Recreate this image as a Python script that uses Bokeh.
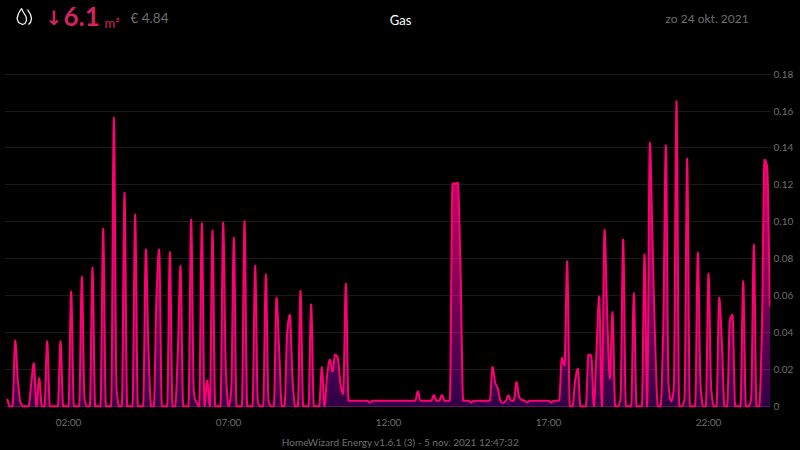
import numpy as np
from bokeh.plotting import figure
from bokeh.layouts import column
from bokeh.core.properties import value
from bokeh.models import FixedTicker, Range1d
from bokeh.embed import file_html
from bokeh.resources import INLINE

# gas use per 5 minutes, one row per hour, first sample at 00:05
gas_m3 = [
    .004, 0, 0, .0356, .014, .002, 0, 0, 0, .012, .0233,
    0, .0152, 0, 0, .0352, 0, 0, 0, 0, .0352, 0, 0,
    0, .0622, 0, 0, 0, .0702, .004, 0, 0, .075, 0, 0,
    0, .0962, 0, 0, 0, .1564, .01, 0, 0, .1157, 0, 0,
    0, .1038, 0, 0, 0, .085, .03, 0, 0, .06, .085, 0,
    0, 0, .0835, 0, 0, .03, .076, 0, 0, 0, .1012, .007,
    .002, 0, .0992, 0, .0139, 0, .0953, 0, 0, 0, .0995, .02,
    0, .008, .0913, 0, 0, 0, .1003, 0, 0, 0, .0761, .002,
    0, 0, .0714, .003, 0, 0, .0588, .03, 0, 0, .04, .0495,
    .015, 0, 0, .0626, 0, 0, 0, .0552, 0, 0, 0, .0211,
    0, .017, .0252, .0188, .028, .026, .012, .0067, .0664, .003, .003, .003,
    .003, .003, .003, .003, .003, .002, .003, .003, .003, .003, .003, .003,
    .003, .003, .003, .003, .003, .003, .003, .003, .003, .003, .003, .008,
    .003, .003, .003, .003, .003, .006, .003, .003, .006, .003, .003, .003,
    .1206, .1208, .1212, .075, .003, .003, .003, .002, .003, .003, .003, .003,
    .003, .003, .003, .0212, .013, .0094, .003, .0018, .003, .0058, .003, .003,
    .013, .005, .0035, .003, .002, .003, .003, .003, .003, .003, .003, .003,
    .003, .002, .003, .003, .003, .0262, .022, .0785, 0, 0, .014, .0203,
    0, 0, 0, .028, .0275, 0, .03, .0595, 0, .0957, .05, .015,
    .051, 0, 0, .004, .0904, 0, 0, 0, .0613, 0, 0, 0,
    .0823, 0, .1428, .09, .035, 0, 0, .04, .1414, .012, .0027, .01,
    .1654, 0, 0, .004, .1342, 0, 0, 0, .0832, .012, 0, 0,
    .0718, .01, 0, 0, .0588, .035, 0, 0, .0465, .0495, 0, 0,
    0, .0678, 0, 0, .004, .0875, 0, 0, .04, .1336, .13, .054,
]
hour_ticks = [2, 7, 12, 17, 22]
hour_labels = ["02:00", "07:00", "12:00", "17:00", "22:00"]
value_ticks = [0, .02, .04, .06, .08, .10, .12, .14, .16, .18]
value_labels = ["0", "0.02", "0.04", "0.06", "0.08", "0.10", "0.12", "0.14", "0.16", "0.18"]
title_text = "Gas"
total_text = "6.1"
unit_text = "m³"
cost_text = "€ 4.84"
date_text = "zo 24 okt. 2021"
footer_text = "HomeWizard Energy v1.6.1 (3) - 5 nov. 2021 12:47:32"

hours = np.array([(i + 1) * 5 / 60 for i in range(len(gas_m3))])
vals = np.array(gas_m3)


def monotone_curve(x, y, per_step=8):
    """Monotone cubic curve through the samples, as the original chart's line style."""
    h = np.diff(x)
    s = np.diff(y) / h
    m = np.zeros_like(y)
    for i in range(1, len(y) - 1):
        if s[i - 1] * s[i] > 0:
            m[i] = 2 * s[i - 1] * s[i] / (s[i - 1] + s[i])
    m[0], m[-1] = s[0], s[-1]
    out_x, out_y = [], []
    for i in range(len(h)):
        t = np.linspace(0, 1, per_step, endpoint=False)
        a = 2 * t**3 - 3 * t**2 + 1
        b = t**3 - 2 * t**2 + t
        c = -2 * t**3 + 3 * t**2
        d = t**3 - t**2
        out_x.append(x[i] + t * h[i])
        out_y.append(a * y[i] + b * h[i] * m[i] + c * y[i + 1] + d * h[i] * m[i + 1])
    return np.append(np.concatenate(out_x), x[-1]), np.append(np.concatenate(out_y), y[-1])


def strip(height, top):
    """A black figure whose data units are page pixels; the column aligns its frame with the chart's."""
    f = figure(width=800, height=height, output_backend="svg", toolbar_location=None,
               x_range=Range1d(4, 770), y_range=Range1d(top + height, top),
               background_fill_color="black", border_fill_color="black",
               x_axis_type=None, y_axis_type=None, min_border=0)
    f.outline_line_color = None
    f.grid.visible = False
    return f


def put(f, text, x, y, size, color, align="left", style="normal", font="Lato"):
    f.text([x], [y], text=[text], text_font=value(font), text_font_size=value(size),
           text_color=color, text_align=align, text_baseline="middle", text_font_style=style)


crimson = "#d2235a"
grey = "#6e6e6e"

head = strip(60, 0)
put(head, "↓", 45, 17, "20px", crimson, style="bold", font="DejaVu Sans")
put(head, total_text, 63, 16, "26px", crimson, style="bold")
put(head, unit_text, 104, 22, "13px", crimson)
put(head, cost_text, 130, 17, "13.5px", grey)
put(head, title_text, 400, 19, "13px", "#ffffff", align="center")
put(head, date_text, 665, 18, "12px", grey)
head.line([22, 18, 16.5, 18, 21, 23, 25.5, 26, 24.5, 22], [24, 22, 18, 13, 8, 12, 16, 20, 23, 24],
          line_color="#ffffff", line_width=1.2)
head.line([27, 30, 31, 30, 28], [9, 14, 18, 22, 24], line_color="#ffffff", line_width=1.2)

p = figure(width=800, height=372, output_backend="svg", toolbar_location=None,
           x_range=Range1d(0, 23.9375), y_range=Range1d(-0.00125, 0.18743),
           background_fill_color="black", border_fill_color="black", y_axis_location="right",
           min_border_left=4, min_border_right=30, min_border_top=0, min_border_bottom=24)
p.outline_line_color = None

p.xaxis.ticker = FixedTicker(ticks=hour_ticks)
p.xaxis.major_label_overrides = dict(zip(hour_ticks, hour_labels))
p.yaxis.ticker = FixedTicker(ticks=value_ticks)
p.yaxis.major_label_overrides = dict(zip(value_ticks, value_labels))
for ax in (p.xaxis, p.yaxis):
    ax.axis_line_color = None
    ax.major_tick_line_color = None
    ax.minor_tick_line_color = None
    ax.major_tick_out = 0
    ax.major_tick_in = 0
    ax.major_label_text_color = grey
    ax.major_label_text_font = "Lato"
    ax.major_label_text_font_size = "10px"
p.xaxis.major_label_standoff = 7
p.yaxis.major_label_standoff = 3
p.xgrid.visible = False
p.ygrid.ticker = FixedTicker(ticks=value_ticks)
p.ygrid.grid_line_color = "#ffffff"
p.ygrid.grid_line_alpha = 0.1

# vertical gradient of the area, painted from the top band down
xd, vd = monotone_curve(hours, vals)
vd = np.maximum(vd, 0)
c0, c1 = np.array([48, 0, 72]), np.array([255, 0, 112])
n = 30
for k in range(n, 0, -1):
    top = 0.1654 * k / n
    c = (c0 + (c1 - c0) * (k - 0.5) / n).astype(int)
    p.varea(xd, 0, np.minimum(vd, top), fill_color="#%02x%02x%02x" % tuple(c), level="underlay")

p.line(xd, vd, line_color="#ff0073", line_width=2, line_join="round")

foot = strip(18, 432)
put(foot, footer_text, 400, 441, "10px", grey, align="center")

page = column(head, p, foot, spacing=0)
page.styles = {"position": "absolute", "left": "0", "top": "0", "background-color": "black"}

open("out.html", "w").write(file_html(page, INLINE))
